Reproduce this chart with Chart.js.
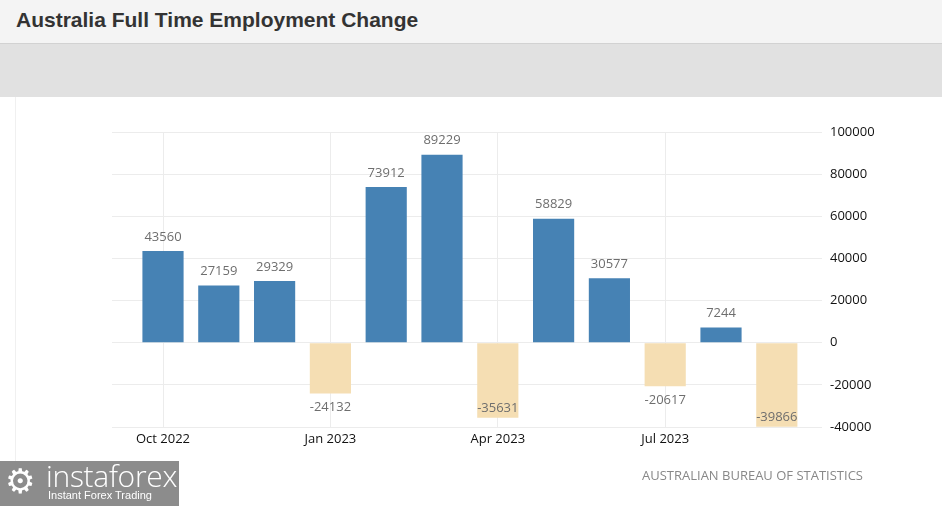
<!DOCTYPE html>
<html>
<head>
<meta charset="utf-8">
<script src="https://cdn.jsdelivr.net/npm/chart.js@4.4.0/dist/chart.umd.min.js"></script>
<style>
  html, body { margin: 0; padding: 0; background: #fff; }
  body { width: 942px; height: 506px; position: relative; overflow: hidden; font-family: "Open Sans", sans-serif; }
  .titlebar { position: absolute; left: 0; top: 0; width: 942px; height: 43px; background: #f4f4f4; border-bottom: 1px solid #d2d2d2; }
  .titlebar h1 { margin: 0; position: absolute; left: 16px; top: 8px; font: bold 21px "Liberation Sans", Arial, sans-serif; color: #333; }
  .band { position: absolute; left: 0; top: 44px; width: 942px; height: 53px; background: #e1e1e1; }
  .leftline { position: absolute; left: 15px; top: 97px; width: 1px; height: 370px; background: #f0f0f0; }
  .wrap { position: absolute; left: 0; top: 97px; width: 942px; height: 409px; }
  .source { position: absolute; left: 642px; top: 466px; font: 13px "Open Sans", sans-serif; color: #888; }
  .logo { position: absolute; left: 0; top: 461px; width: 179px; height: 45px; background: #8c8c8c; color: #fff; }
  .logo .gear { position: absolute; left: 5px; top: 0px; font: 34px "DejaVu Sans", sans-serif; line-height: 40px; }
  .logo .brand { position: absolute; left: 46px; top: -6px; font: 300 30px "Open Sans", sans-serif; letter-spacing: -0.3px; }
  .logo .tag { position: absolute; left: 48px; top: 28px; font: 11px "Liberation Sans", Arial, sans-serif; }
</style>
</head>
<body>
<div class="titlebar"><h1>Australia Full Time Employment Change</h1></div>
<div class="band"></div>
<div class="leftline"></div>
<div class="wrap"><canvas id="empChart" width="942" height="409"></canvas></div>
<div class="source">AUSTRALIAN BUREAU OF STATISTICS</div>
<div class="logo"><span class="gear">⚙</span><span class="brand">instaforex</span><span class="tag">Instant Forex Trading</span></div>
<script>
const months = ['Oct 2022', 'Nov 2022', 'Dec 2022', 'Jan 2023', 'Feb 2023', 'Mar 2023',
                'Apr 2023', 'May 2023', 'Jun 2023', 'Jul 2023', 'Aug 2023', 'Sep 2023'];
const changes = [43560, 27159, 29329, -24132, 73912, 89229, -35631, 58829, 30577, -20617, 7244, -39866];
const tickMonths = ['Oct 2022', 'Jan 2023', 'Apr 2023', 'Jul 2023'];
const yMin = -40000;
const yMax = 100000;
const yStep = 20000;

renderEmpChart(months, changes);

function renderEmpChart(labels, values) {
    const points = values.map((v, i) => ({ x: i, y: v }));
    const colors = values.map(v => v >= 0 ? 'rgb(70, 130, 180)' : 'rgb(245, 222, 179)');

    // value above positive bars, below negative ones (inside the bar if it would not fit)
    const valueLabels = {
        id: 'valueLabels',
        afterDatasetsDraw(chart) {
            const ctx = chart.ctx;
            const area = chart.chartArea;
            ctx.save();
            ctx.font = '13px "Open Sans", sans-serif';
            ctx.fillStyle = '#6e6e6e';
            ctx.textAlign = 'center';
            ctx.textBaseline = 'middle';
            chart.getDatasetMeta(0).data.forEach((bar, i) => {
                const v = values[i];
                let y = v >= 0 ? bar.y - 14 : bar.y + 14;
                if (v < 0 && y + 7 > area.bottom) y = bar.y - 9;
                ctx.fillText(String(v), bar.x, y);
            });
            ctx.restore();
        }
    };

    const data = {
        datasets: [{
            data: points,
            backgroundColor: colors,
            barPercentage: 0.82,
            categoryPercentage: 0.9
        }]
    };

    const options = {
        responsive: false,
        animation: false,
        layout: { padding: { left: 112, top: 35, right: 0, bottom: 0 } },
        plugins: {
            legend: { display: false },
            tooltip: { enabled: false }
        },
        scales: {
            x: {
                type: 'linear',
                offset: false,
                min: -0.914,
                max: 11.81,
                afterBuildTicks: scale => {
                    scale.ticks = tickMonths.map(m => ({ value: labels.indexOf(m) }));
                },
                afterFit: scale => { scale.height = 79; },
                ticks: {
                    color: '#111',
                    padding: 4,
                    maxRotation: 0,
                    autoSkip: false,
                    font: { family: '"Open Sans", sans-serif', size: 13 },
                    callback: v => labels[v]
                },
                grid: { color: '#ececec', drawTicks: false, offset: false },
                border: { display: false }
            },
            y: {
                position: 'right',
                min: yMin,
                max: yMax,
                afterFit: scale => { scale.width = 120; },
                ticks: {
                    stepSize: yStep,
                    color: '#111',
                    padding: 8,
                    font: { family: '"Open Sans", sans-serif', size: 13 },
                    callback: v => String(v)
                },
                grid: { color: '#ececec', drawTicks: false },
                border: { display: false }
            }
        }
    };

    new Chart('empChart', { type: 'bar', data, options, plugins: [valueLabels] });
}
</script>
</body>
</html>
